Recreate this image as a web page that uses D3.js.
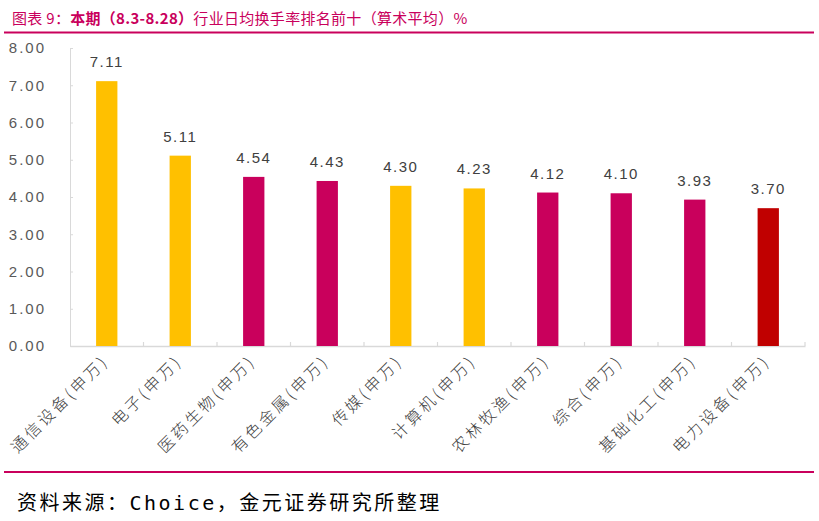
<!DOCTYPE html>
<html><head><meta charset="utf-8">
<script src="https://cdn.jsdelivr.net/npm/d3@7"></script>
<style>
body{margin:0;background:#fff;}
svg{display:block;}
</style></head>
<body>
<svg id="c" width="819" height="521"></svg>
<script>
const categories = ["通信设备(申万)","电子(申万)","医药生物(申万)","有色金属(申万)","传媒(申万)","计算机(申万)","农林牧渔(申万)","综合(申万)","基础化工(申万)","电力设备(申万)"];
const values = [7.11,5.11,4.54,4.43,4.30,4.23,4.12,4.10,3.93,3.70];
const colorGroups = ["y","y","m","m","y","y","m","m","m","r"];
const yTicks = [0,1,2,3,4,5,6,7,8];
const palette = {y:"#FFC000", m:"#C9005C", r:"#C00000"};

const svg = d3.select("#c");
const pL = 70, pR = 805, pT = 48, pB = 346;
const x = d3.scaleBand().domain(categories).range([pL, pR]);
const y = d3.scaleLinear().domain([0, 8]).range([pB, pT]);
const barW = x.bandwidth() * 0.29;

// title
const title = svg.append("text").attr("x", 12).attr("y", 24)
  .attr("font-family", "'Noto Sans CJK SC'").attr("font-size", 15)
  .attr("fill", "#C9005C").attr("letter-spacing", 0.3);
title.append("tspan").text("图表 9：");
title.append("tspan").attr("font-weight", "bold").text("本期（8.3-8.28）");
title.append("tspan").text("行业日均换手率排名前十（算术平均）%");

svg.append("line").attr("x1", 4).attr("x2", 814).attr("y1", 32.5).attr("y2", 32.5)
  .attr("stroke", "#C9005C").attr("stroke-width", 2);
svg.append("line").attr("x1", 4).attr("x2", 814).attr("y1", 472).attr("y2", 472)
  .attr("stroke", "#C9005C").attr("stroke-width", 2);

// y axis
const yAxis = d3.axisLeft(y).tickValues(yTicks).tickFormat(d3.format(".2f")).tickSize(-3).tickPadding(24);
const gy = svg.append("g").attr("transform", `translate(${pL},0)`).call(yAxis);
gy.select(".domain").attr("stroke", "#D9D9D9");
gy.selectAll(".tick line").attr("stroke", "#D9D9D9");
gy.selectAll(".tick text").attr("font-family", "'Liberation Sans'").attr("font-size", 15)
  .attr("fill", "#595959").attr("letter-spacing", 2);

// x axis
const xAxis = d3.axisBottom(x).tickSize(0).tickFormat("");
const gx = svg.append("g").attr("transform", `translate(0,${pB})`).call(xAxis);
gx.select(".domain").attr("stroke", "#D9D9D9").attr("stroke-width", 1.5);
gx.selectAll(".tick").remove();
const bounds = categories.map(c => x(c)).concat([pR]).slice(1);
gx.selectAll("line.sep").data(bounds).enter().append("line").attr("class","sep")
  .attr("x1", d => d).attr("x2", d => d).attr("y1", 0).attr("y2", -4)
  .attr("stroke", "#D9D9D9").attr("stroke-width", 1.2);

// bars
svg.selectAll("rect.bar").data(values).enter().append("rect").attr("class","bar")
  .attr("x", (d,i) => x(categories[i]) + x.bandwidth()/2 - barW/2)
  .attr("width", barW)
  .attr("y", d => y(d))
  .attr("height", d => y(0) - y(d))
  .attr("fill", (d,i) => palette[colorGroups[i]]);

// value labels
svg.selectAll("text.val").data(values).enter().append("text").attr("class","val")
  .attr("x", (d,i) => x(categories[i]) + x.bandwidth()/2)
  .attr("y", d => y(d) - 14)
  .attr("text-anchor", "middle")
  .attr("font-family", "'Liberation Sans'").attr("font-size", 15)
  .attr("letter-spacing", 1.5)
  .attr("fill", "#404040")
  .text(d => d.toFixed(2));

// category labels
svg.selectAll("text.cat").data(categories).enter().append("text").attr("class","cat")
  .attr("transform", d => `translate(${x(d) + x.bandwidth()/2 + 3},${pB + 16}) rotate(-45)`)
  .attr("text-anchor", "end")
  .attr("font-family", "'Noto Sans CJK SC'").attr("font-size", 16)
  .attr("font-weight", 300)
  .attr("letter-spacing", 3)
  .attr("fill", "#404040")
  .text(d => d);

// source
const src = svg.append("text").attr("x", 17).attr("y", 510)
  .attr("font-family", "'Noto Sans CJK SC'").attr("font-size", 20)
  .attr("fill", "#000").attr("letter-spacing", 2.5);
src.append("tspan").text("资料来源：");
src.append("tspan").attr("font-family", "'DejaVu Sans Mono'").text("Choice");
src.append("tspan").text("，金元证券研究所整理");
</script>
</body></html>
